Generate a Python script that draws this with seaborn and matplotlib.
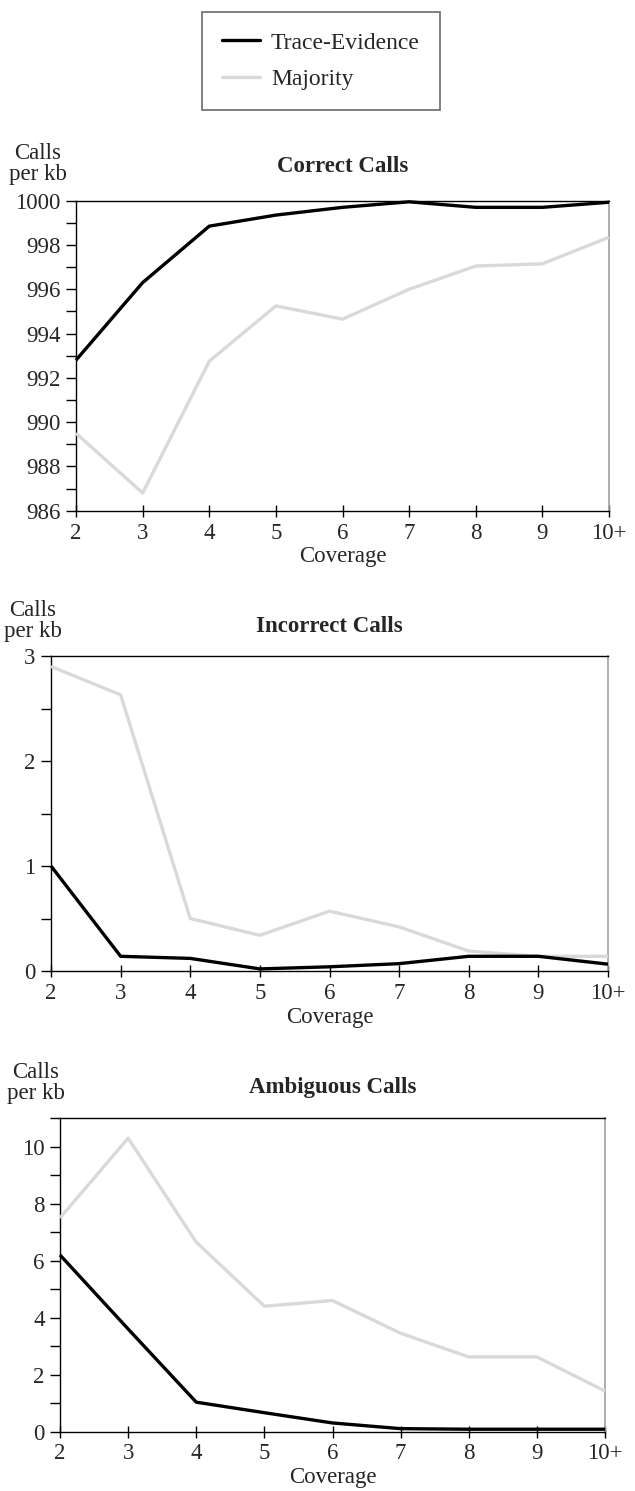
import numpy as np
import pandas as pd
import matplotlib
matplotlib.use("Agg")
import matplotlib.pyplot as plt
from matplotlib.ticker import MultipleLocator
import seaborn as sns

# ------------------------------------------------------------
# Dati (letti dal grafico di riferimento)
# ------------------------------------------------------------

coverage_labels = ["2", "3", "4", "5", "6", "7", "8", "9", "10+"]

correct_trace = [992.8, 996.3, 998.85, 999.35, 999.7, 999.95, 999.7, 999.7, 999.93]
correct_majority = [989.5, 986.8, 992.75, 995.25, 994.65, 996.0, 997.05, 997.15, 998.35]

incorrect_trace = [1.0, 0.14, 0.12, 0.02, 0.04, 0.07, 0.14, 0.14, 0.065]
incorrect_majority = [2.9, 2.63, 0.5, 0.34, 0.57, 0.42, 0.19, 0.14, 0.14]

ambiguous_trace = [6.2, 3.6, 1.03, 0.66, 0.3, 0.1, 0.08, 0.08, 0.08]
ambiguous_majority = [7.5, 10.3, 6.65, 4.4, 4.6, 3.45, 2.62, 2.62, 1.42]

series_names = ["Trace-Evidence", "Majority"]

# ------------------------------------------------------------
# Stile
# ------------------------------------------------------------

W, H = 635, 1491
TRACE_COLOR = "black"
MAJ_COLOR = "#d9d9d9"
FONT_SIZE = 16.5

sns.set_style("ticks")
plt.rcParams["font.family"] = ["Liberation Serif", "DejaVu Serif"]
plt.rcParams["font.size"] = FONT_SIZE


def fig_box(left, right, top, bottom):
    """Converte un riquadro in pixel in coordinate figura [x, y, w, h]."""
    return [left / W, 1 - bottom / H, (right - left) / W, (bottom - top) / H]


def draw_panel(fig, box, trace, majority, ylim, major, minor, title, text_y, ylab_x):
    ax = fig.add_axes(fig_box(*box))
    x = np.arange(len(coverage_labels))
    df = pd.DataFrame({
        "pos": np.concatenate([x, x]),
        "value": np.concatenate([majority, trace]),
        "series": [series_names[1]] * len(x) + [series_names[0]] * len(x),
    })
    sns.lineplot(
        data=df, x="pos", y="value", hue="series",
        hue_order=[series_names[1], series_names[0]],
        palette={series_names[0]: TRACE_COLOR, series_names[1]: MAJ_COLOR},
        lw=2.4, ax=ax, legend=False, clip_on=False,
    )
    # la linea nera sopra quella grigia
    for line in ax.get_lines():
        line.set_solid_capstyle("butt")
        if line.get_color() in ("black", "#000000"):
            line.set_zorder(4)
        else:
            line.set_zorder(3)

    ax.set_xlim(0, len(x) - 1)
    ax.set_ylim(*ylim)
    ax.set_xticks(x)
    ax.set_xticklabels(coverage_labels)
    ax.yaxis.set_major_locator(MultipleLocator(major))
    ax.yaxis.set_minor_locator(MultipleLocator(minor))
    ax.tick_params(axis="y", which="both", direction="out", length=7, width=1,
                   color="black", pad=4, labelsize=FONT_SIZE)
    ax.tick_params(axis="x", which="major", direction="inout", length=9, width=1,
                   color="black", pad=4, labelsize=FONT_SIZE)
    ax.set_xlabel("Coverage", fontsize=FONT_SIZE, labelpad=2)
    ax.set_ylabel("")

    for side in ("top", "left", "bottom"):
        ax.spines[side].set_color("black")
        ax.spines[side].set_linewidth(1)
    ax.spines["right"].set_color("#a0a0a0")
    ax.spines["right"].set_linewidth(1.2)
    for side in ax.spines:
        ax.spines[side].set_visible(True)

    # titolo e etichetta asse y sopra il grafico
    cx = (box[0] + box[1]) / 2
    fig.text(cx / W, 1 - text_y[0] / H, title, ha="center", va="center",
             fontsize=FONT_SIZE, fontweight="bold")
    fig.text(ylab_x / W, 1 - text_y[1] / H, "Calls\nper kb", ha="center", va="center",
             fontsize=FONT_SIZE, linespacing=1.05)
    return ax


fig = plt.figure(figsize=(W / 100, H / 100), dpi=100)

ax1 = draw_panel(fig, (76, 609, 200.7, 510.7), correct_trace, correct_majority,
                 (986, 1000), 2, 1, "Correct Calls", (167, 164), 38)
ax2 = draw_panel(fig, (51, 608, 656, 971), incorrect_trace, incorrect_majority,
                 (0, 3), 1, 0.5, "Incorrect Calls", (627, 621), 33)
ax3 = draw_panel(fig, (60, 605, 1118.3, 1431.5), ambiguous_trace, ambiguous_majority,
                 (0, 11), 2, 1, "Ambiguous Calls", (1087, 1083), 36)

# ------------------------------------------------------------
# Legenda in alto
# ------------------------------------------------------------

handles = [
    plt.Line2D([], [], color=TRACE_COLOR, lw=2.4),
    plt.Line2D([], [], color=MAJ_COLOR, lw=2.4),
]
leg = fig.legend(
    handles, series_names,
    loc="upper left", bbox_to_anchor=(202 / W, 1 - 12 / H),
    frameon=True, fancybox=False, shadow=False,
    fontsize=17, handlelength=1.6, handletextpad=0.47,
    borderpad=0.85, labelspacing=0.62, borderaxespad=0,
)
leg.get_frame().set_edgecolor("#444444")
leg.get_frame().set_linewidth(1.2)

fig.savefig("out.png", dpi=100)
